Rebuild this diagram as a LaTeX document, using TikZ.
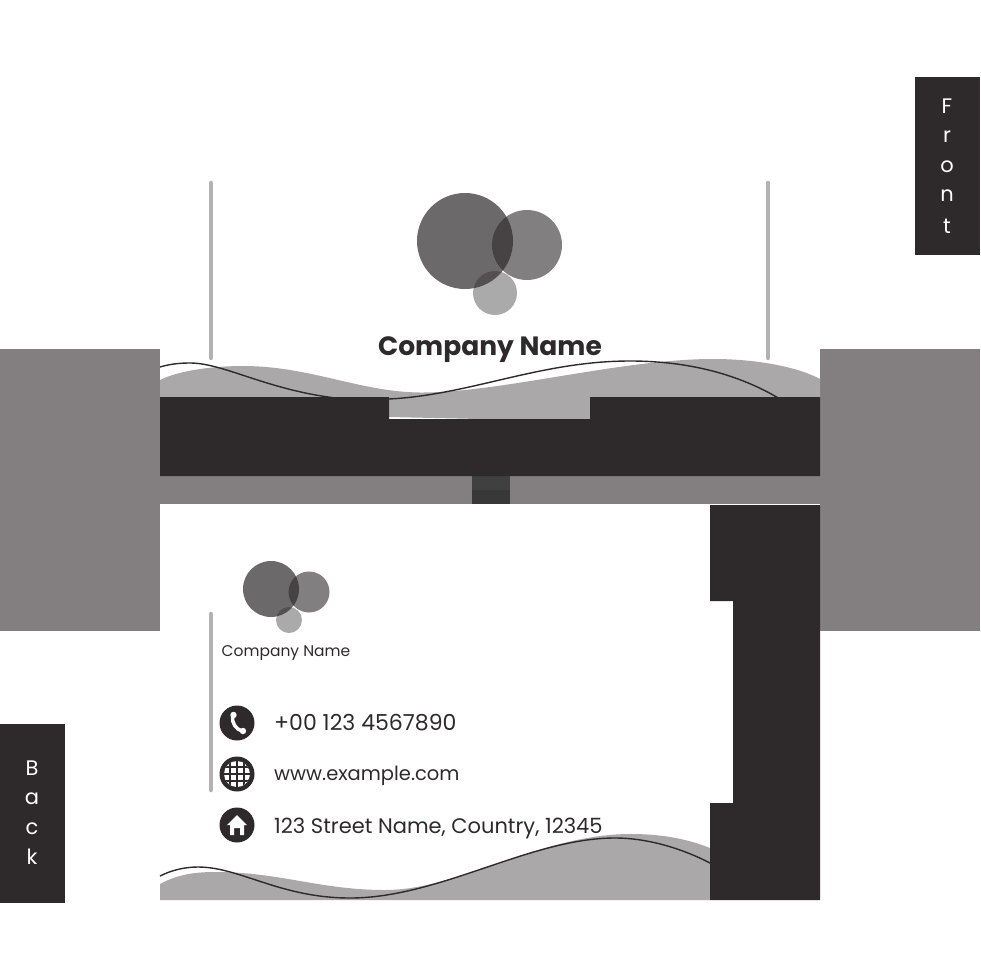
\documentclass[tikz,border=0pt]{standalone}
\usepackage{fontspec}
\setmainfont{Poppins}
\usetikzlibrary{positioning}
\definecolor{darkfill}{RGB}{46,42,43}
\definecolor{midgrey}{RGB}{131,127,128}
\definecolor{wavegrey}{RGB}{170,168,169}
\definecolor{bargrey}{RGB}{178,178,178}
\newcommand{\pxfont}[1]{\fontsize{#1}{#1}\selectfont}
\tikzset{
  panel/.style={fill=midgrey, draw=none},
  dark/.style={fill=darkfill, draw=none},
  wave/.style={fill=wavegrey, draw=none},
  waveline/.style={draw=darkfill, line width=1.4pt},
  bar/.style={draw=bargrey, line width=4.5pt, line cap=round},
  tablabel/.style={text=white, font=\pxfont{21}, inner sep=0pt},
  infotext/.style={text=darkfill, anchor=west, inner sep=0pt},
  iconbg/.style={circle, fill=darkfill, minimum size=35pt, inner sep=0pt},
}
\begin{document}
\begin{tikzpicture}[x=1pt, y=-1pt]
  \useasboundingbox (0,0) rectangle (980,980);

  % Side panels and band
  \fill[panel] (0,349) rectangle (160,631);
  \fill[panel] (820,349) rectangle (980,631);
  \fill[panel] (160,476) rectangle (820,504);
  \fill[fill=black!75] (472,476) rectangle (510,490);
  \fill[fill=black!78] (472,490) rectangle (510,504);

  % Tabs
  \fill[dark] (915,77) rectangle (980,255);
  \fill[dark] (0,724) rectangle (65,903);
  \foreach \y/\ch [count=\i] in {106/F, 137/r, 167/o, 196/n, 226/t}{
    \node[tablabel] (front\i) at (947,\y) {\ch};
  }
  \foreach \y/\ch [count=\i] in {768/B, 799/a, 829/c, 857/k}{
    \node[tablabel] (back\i) at (32,\y) {\ch};
  }

  % Front wave
  \fill[wave] (160,397) -- (160,380) .. controls (180,370) and (215,366) .. (243,366)
    .. controls (310,366) and (360,392) .. (420,392.5)
    .. controls (500,393) and (620,359) .. (713,359)
    .. controls (760,359) and (800,368) .. (820,379)
    -- (820,397) -- (590,397) -- (590,419) -- (480,419) -- (389,417) -- (389,397) -- cycle;
  \draw[waveline] (160,367) .. controls (170,364) and (180,363) .. (190,363)
    .. controls (225,363) and (270,392) .. (345,399);
  \draw[waveline] (389,399) .. controls (470,395) and (540,361) .. (630,361)
    .. controls (690,361) and (740,375) .. (780,399);
  \fill[dark] (160,397) -- (389,397) -- (389,419) -- (590,419) -- (590,397)
    -- (820,397) -- (820,476) -- (160,476) -- cycle;

  % Back wave
  \fill[wave] (160,900) -- (160,884) .. controls (175,876) and (190,872) .. (215,872)
    .. controls (280,872) and (320,890) .. (385,890)
    .. controls (460,890) and (540,834) .. (631,834)
    .. controls (665,834) and (690,840) .. (710,848)
    -- (710,900) -- cycle;
  \draw[waveline] (160,876) .. controls (172,870) and (185,867) .. (198,867)
    .. controls (240,867) and (280,898) .. (350,898)
    .. controls (440,898) and (530,838) .. (615,838)
    .. controls (650,838) and (685,850) .. (710,863);
  \fill[dark] (710,505) -- (820,505) -- (820,900) -- (710,900) -- (710,803) -- (733,803)
    -- (733,601) -- (710,601) -- cycle;

  % Bars
  \draw[bar] (211,183) -- (211,358);
  \draw[bar] (768,183) -- (768,358);
  \draw[bar] (211,614) -- (211,790);

  % Logos
  \fill[darkfill, opacity=.7] (465,241) circle (48);
  \fill[darkfill, opacity=.6] (527,245) circle (35);
  \fill[darkfill, opacity=.4] (495,293) circle (22);
  \fill[darkfill, opacity=.7] (271,589) circle (28);
  \fill[darkfill, opacity=.6] (309,592) circle (20.5);
  \fill[darkfill, opacity=.4] (289,620) circle (13);

  \node[text=darkfill, inner sep=0pt, font=\pxfont{26.5}\bfseries] (frontname) at (490,350) {Company Name};
  \node[text=darkfill, inner sep=0pt, font=\pxfont{15.5}] (backname) at (286,653.5) {Company Name};

  % Contact rows
  \node[iconbg] (phone) at (237,723) {};
  \node[iconbg] (web) at (237,774) {};
  \node[iconbg] (home) at (237,825) {};
  \node[infotext, font=\pxfont{22}] (phonetext) at (274,723) {+00 123 4567890};
  \node[infotext, font=\pxfont{19.5}] (webtext) at (274,776) {www.example.com};
  \node[infotext, font=\pxfont{21}] (hometext) at (274,828) {123 Street Name, Country, 12345};

  % Icons
  \draw[white, line width=3.5pt, line cap=round] (232.5,716) .. controls (232,724) and (236,729) .. (242,731);
  \fill[white] (233.5,715) circle (3.2);
  \fill[white] (243,731) circle (3.2);
  \begin{scope}
    \clip (237,774) circle (13);
    \fill[white] (237,774) circle (13);
    \foreach \d in {-7,0,7}{
      \draw[darkfill, line width=1.2pt] (237+\d,760) -- (237+\d,788);
      \draw[darkfill, line width=1.2pt] (223,774+\d) -- (251,774+\d);
    }
  \end{scope}
  \fill[white] (237,815) -- (247,825) -- (244,825) -- (244,835) -- (240,835) -- (240,828) -- (234,828)
    -- (234,835) -- (230,835) -- (230,825) -- (227,825) -- cycle;
\end{tikzpicture}
\end{document}
